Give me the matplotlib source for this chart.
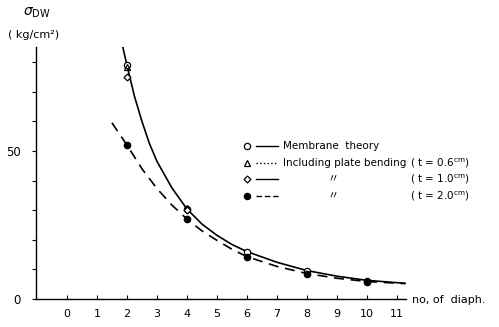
import numpy as np
import matplotlib.pyplot as plt

# measured points (no. of diaphragms vs sigma_DW in kg/cm2)
membrane_x = [2, 4, 6, 8, 10]
membrane_y = [79, 30.4, 16.0, 9.5, 6.2]
bend06_x = [2, 4]
bend06_y = [78.5, 30.8]
bend10_x = [2, 4]
bend10_y = [75, 30]
bend20_x = [2, 4, 6, 8, 10]
bend20_y = [52, 27, 14.3, 8.5, 5.9]

# curves
solid_x = [1.83, 2.0, 2.25, 2.5, 2.75, 3.0, 3.5, 4.0, 4.5, 5.0, 5.5, 6.0, 7.0, 8.0, 9.0, 10.0, 11.27]
solid_y = [86.5, 79.0, 68.5, 60.0, 52.5, 46.5, 37.5, 30.4, 25.3, 21.5, 18.4, 16.0, 12.4, 9.6, 7.7, 6.3, 5.3]
dash_x = [1.5, 2.0, 2.5, 3.0, 3.5, 4.0, 4.5, 5.0, 5.5, 6.0, 7.0, 8.0, 9.0, 10.0, 11.27]
dash_y = [59.5, 52.0, 44.0, 37.3, 31.7, 27.0, 23.0, 19.8, 16.8, 14.3, 11.0, 8.6, 7.0, 5.9, 5.2]

x_ticks = list(range(0, 12))
y_ticks = list(range(0, 90, 10))

fig = plt.figure(figsize=(4.99, 3.27), dpi=100)
ax = fig.add_axes([36 / 499, 28 / 327, 370 / 499, 252 / 327])

ax.plot(solid_x, solid_y, color='black', lw=1.2)
ax.plot(dash_x, dash_y, color='black', lw=1.2, dashes=(6, 4))

ax.plot(membrane_x, membrane_y, 'o', ms=4.5, mfc='white', mec='black', mew=0.9)
ax.plot(bend06_x, bend06_y, '^', ms=4.5, mfc='none', mec='black', mew=0.9)
ax.plot(bend10_x, bend10_y, 'D', ms=3.5, mfc='white', mec='black', mew=0.9)
ax.plot(bend20_x, bend20_y, 'o', ms=4.5, color='black')

ax.set_xlim(-1.03, 11.3)
ax.set_ylim(0, 85.1)
ax.spines['top'].set_visible(False)
ax.spines['right'].set_visible(False)
for s in ['left', 'bottom']:
    ax.spines[s].set_linewidth(1.0)

ax.set_xticks(x_ticks)
ax.set_xticklabels([str(v) for v in x_ticks], fontsize=8)
ax.tick_params(axis='x', direction='in', length=3, pad=7)
ax.set_yticks(y_ticks)
ax.set_yticklabels(['0' if v == 0 else ('50' if v == 50 else '') for v in y_ticks], fontsize=8.5)
ax.tick_params(axis='y', direction='out', length=3, pad=8)

# axis annotations
fig.text(23 / 499, 1 - 13 / 327, r'$\sigma_{\rm DW}$', fontsize=10, va='center', ha='left')
fig.text(8 / 499, 1 - 35 / 327, '( kg/cm²)', fontsize=8, va='center', ha='left')
fig.text(412 / 499, 1 - 300 / 327, 'no, of  diaph.', fontsize=8, va='center', ha='left')

# hand-drawn style legend
rows = [146, 163, 179, 196]
mk = [dict(marker='o', mfc='white'), dict(marker='^', mfc='white'),
      dict(marker='D', mfc='white', ms=3.5), dict(marker='o', mfc='black')]
lstyle = [dict(ls='-'), dict(ls=':'), dict(ls='-'), dict(ls='--', dashes=(4, 2))]
for r, m, l in zip(rows, mk, lstyle):
    yy = 1 - r / 327
    kw = dict(ms=4.5, mec='black', mew=0.9)
    kw.update(m)
    fig.lines.append(plt.Line2D([247 / 499], [yy], transform=fig.transFigure, color='black', **kw))
    fig.lines.append(plt.Line2D([256 / 499, 278 / 499], [yy, yy], transform=fig.transFigure,
                                color='black', lw=1.0, **l))
fig.text(283 / 499, 1 - 146 / 327, 'Membrane  theory', fontsize=7.5, va='center')
fig.text(283 / 499, 1 - 163 / 327, 'Including plate bending', fontsize=7.5, va='center')
for r in rows[2:]:
    fig.text(333 / 499, 1 - r / 327, '〃', fontsize=8, va='center', ha='center',
             family=['Noto Sans CJK JP', 'DejaVu Sans'])
for r, t in zip(rows[1:], ['0.6', '1.0', '2.0']):
    fig.text(410 / 499, 1 - r / 327, '( t = ' + t + r'$^{\rm cm}$)', fontsize=7.5, va='center')

fig.savefig('out.png', dpi=100)
